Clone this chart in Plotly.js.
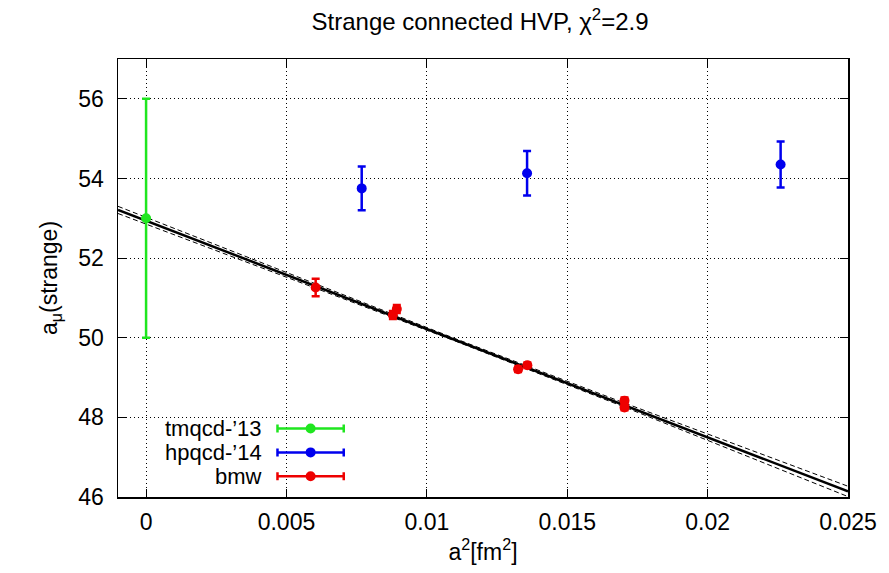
<!DOCTYPE html>
<html><head><meta charset="utf-8">
<script src="https://cdn.plot.ly/plotly-3.0.1.min.js"></script>
<style>body{margin:0;background:#fff}#c{width:889px;height:573px}</style>
</head><body><div id="c"></div>
<script>
// Data
const tmqcdX = [0.0], tmqcdY = [53.0], tmqcdErr = [3.0];
const hpqcdX = [0.00768, 0.01357, 0.02260], hpqcdY = [53.75, 54.13, 54.35], hpqcdErr = [0.55, 0.56, 0.58];
const bmwX = [0.00604, 0.00879, 0.00893, 0.01325, 0.01358, 0.01704, 0.01704];
const bmwY = [51.26, 50.57, 50.72, 49.21, 49.31, 48.42, 48.25];
const bmwErr = [0.22, 0.10, 0.10, 0.07, 0.07, 0.08, 0.07];
const fitX = [-0.001, 0.025], fitY = [53.21, 46.14];
const bandX = [-0.001, 0.005, 0.011, 0.017, 0.025];
const bandUp = [53.30, 51.63, 49.98, 48.37, 46.27];
const bandLo = [53.12, 51.53, 49.92, 48.27, 46.01];
const legNames = ["tmqcd-\u201913", "hpqcd-\u201914", "bmw"];
const xTicks = [0, 0.005, 0.01, 0.015, 0.02, 0.025];
const xTickText = ["0", "0.005", "0.01", "0.015", "0.02", "0.025"];
const yTicks = [46, 48, 50, 52, 54, 56];

const GREEN = "#1fe61f", BLUE = "#0000ee", RED = "#ee0000";
const FONT = "Liberation Sans, Arial, sans-serif";
const FS = 23;

function pts(x, y, e, c) {
  return {x, y, type: "scatter", mode: "markers", showlegend: false, cliponaxis: false,
    marker: {color: c, size: 10},
    error_y: {type: "data", array: e, visible: true, color: c, thickness: 2.5, width: 4}};
}
const traces = [
  {x: bandX, y: bandUp, mode: "lines", line: {color: "#000", width: 1, dash: "5px,3px"}, showlegend: false},
  {x: bandX, y: bandLo, mode: "lines", line: {color: "#000", width: 1, dash: "5px,3px"}, showlegend: false},
  {x: fitX, y: fitY, mode: "lines", line: {color: "#000", width: 2.5}, showlegend: false},
  pts(tmqcdX, tmqcdY, tmqcdErr, GREEN),
  pts(hpqcdX, hpqcdY, hpqcdErr, BLUE),
  pts(bmwX, bmwY, bmwErr, RED)
];
// custom legend (gnuplot style: text left of sample)
const legColors = [GREEN, BLUE, RED];
const legY = [47.72, 47.12, 46.52];
const legCX = 0.00586, legHalf = 0.00118, legTextX = 0.0042;
const annotations = [];
legNames.forEach((n, i) => {
  traces.push({x: [legCX], y: [legY[i]], mode: "markers", showlegend: false, hoverinfo: "skip",
    marker: {color: legColors[i], size: 10},
    error_x: {type: "constant", value: legHalf, visible: true, color: legColors[i], thickness: 2.5, width: 4}});
  annotations.push({x: legTextX, y: legY[i], xref: "x", yref: "y", text: n, showarrow: false,
    xanchor: "right", yanchor: "middle", font: {family: FONT, size: 22, color: "#000"}});
});

const ax = {
  showline: true, linecolor: "#000", linewidth: 1.5, mirror: "allticks",
  ticks: "inside", ticklen: 8, tickwidth: 1, tickcolor: "#000",
  showgrid: true, gridcolor: "#000", gridwidth: 1, griddash: "1px,3px",
  zeroline: false, tickfont: {family: FONT, size: FS, color: "#000"}
};
const layout = {
  width: 889, height: 573,
  margin: {l: 118, r: 41, t: 59, b: 76},
  paper_bgcolor: "#fff", plot_bgcolor: "#fff",
  title: {text: "Strange connected HVP, \u03c7<sup>2</sup>=2.9", xref: "container", x: 0.54, xanchor: "center",
    yref: "container", y: 0.962, yanchor: "middle",
    font: {family: FONT, size: 24, color: "#000"}},
  xaxis: Object.assign({}, ax, {range: [-0.001, 0.025], tickvals: xTicks, ticktext: xTickText,
    ticklabelstandoff: 4,
    title: {text: "a<sup>2</sup>[fm<sup>2</sup>]", font: {family: FONT, size: FS, color: "#000"}, standoff: 6}}),
  yaxis: Object.assign({}, ax, {range: [46, 57], tickvals: yTicks, ticklabelstandoff: 8,
    title: {text: "a<sub>\u03bc</sub>(strange)", font: {family: FONT, size: FS, color: "#000"}, standoff: 14}}),
  annotations,
  showlegend: false
};
Plotly.newPlot("c", traces, layout, {staticPlot: true});
</script></body></html>
